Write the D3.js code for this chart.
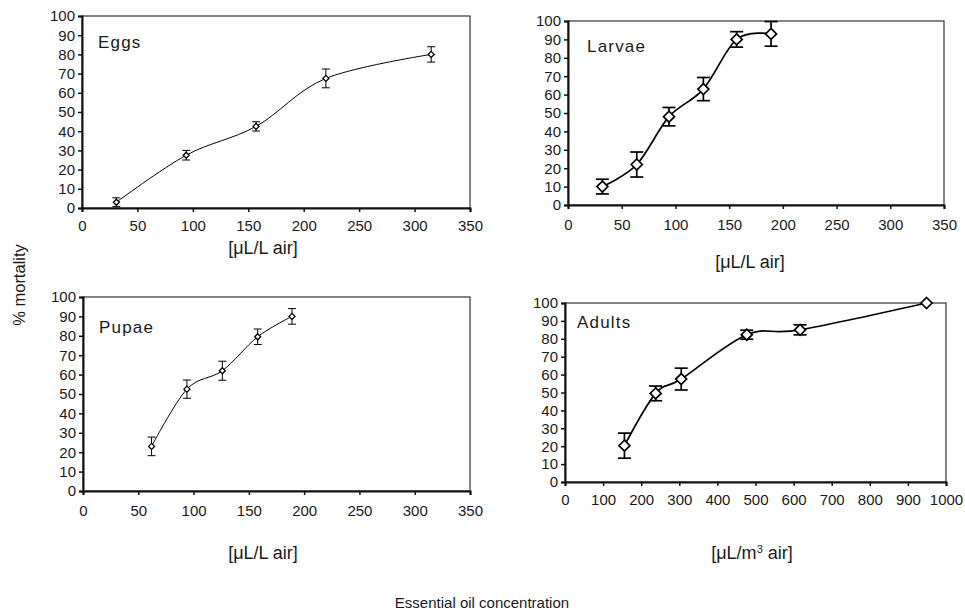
<!DOCTYPE html>
<html>
<head>
<meta charset="utf-8">
<script src="https://cdn.jsdelivr.net/npm/d3@7"></script>
<style>
  body { margin: 0; background: #fff; }
  svg { font-family: "Liberation Sans", Arial, sans-serif; }
</style>
</head>
<body>
<svg id="chart" width="965" height="613"></svg>
<script>
// data
var yTicks = [0, 10, 20, 30, 40, 50, 60, 70, 80, 90, 100];
var xTicksL = [0, 50, 100, 150, 200, 250, 300, 350];
var xTicksA = [0, 100, 200, 300, 400, 500, 600, 700, 800, 900, 1000];

var eggsX = [31, 94, 157, 220, 315];
var eggsY = [3, 27.5, 42.5, 67.5, 80];
var eggsErr = [2.3, 2.5, 2.4, 4.9, 4];

var larvaeX = [32, 64, 94, 126, 157, 189];
var larvaeY = [10, 22, 48, 63, 90, 93];
var larvaeErr = [4, 6.8, 5, 6.3, 4.2, 6.7];

var pupaeX = [62, 94, 126, 158, 189];
var pupaeY = [23, 52.5, 62, 79.5, 90];
var pupaeErr = [4.8, 4.7, 4.9, 4, 4];

var adultsX = [156, 238, 305, 477, 617, 949];
var adultsY = [20.3, 49.5, 57.5, 82.3, 85, 100];
var adultsErr = [7, 4.1, 6.1, 2.5, 2.8, 0];

var panels = [
  { name: 'Eggs', xs: eggsX, ys: eggsY, err: eggsErr, xTicks: xTicksL, xMax: 350,
    x0: 82, x1: 470, y0: 208, y1: 16, unit: '[μL/L air]', unitX: 263, unitY: 248,
    titleX: 98, titleY: 48, heavy: false, labOff: 12 },
  { name: 'Larvae', xs: larvaeX, ys: larvaeY, err: larvaeErr, xTicks: xTicksL, xMax: 350,
    x0: 568, x1: 944, y0: 205, y1: 21, unit: '[μL/L air]', unitX: 750, unitY: 262,
    titleX: 587, titleY: 52, heavy: true, labOff: 14 },
  { name: 'Pupae', xs: pupaeX, ys: pupaeY, err: pupaeErr, xTicks: xTicksL, xMax: 350,
    x0: 83, x1: 470, y0: 491, y1: 297, unit: '[μL/L air]', unitX: 263, unitY: 553,
    titleX: 99, titleY: 333, heavy: false, labOff: 14 },
  { name: 'Adults', xs: adultsX, ys: adultsY, err: adultsErr, xTicks: xTicksA, xMax: 1000,
    x0: 565, x1: 946, y0: 482, y1: 303, unit: 'm3', unitX: 752, unitY: 553,
    titleX: 577, titleY: 328, heavy: true, labOff: 12 }
];

var svg = d3.select('#chart');
var ink = '#1a1a1a';

function diamond(r) {
  return 'M0,' + (-r) + 'L' + r + ',0L0,' + r + 'L' + (-r) + ',0Z';
}

panels.forEach(function (p) {
  var lw = p.heavy ? 1.7 : 1;
  var r = p.heavy ? 5.5 : 3;
  var cap = p.heavy ? 6.5 : 4;

  var x = d3.scaleLinear().domain([0, p.xMax]).range([p.x0, p.x1]);
  var y = d3.scaleLinear().domain([0, 100]).range([p.y0, p.y1]);
  var g = svg.append('g');

  // plot frame (Excel style: gray top and right)
  g.append('rect')
    .attr('x', p.x0).attr('y', p.y1)
    .attr('width', p.x1 - p.x0).attr('height', p.y0 - p.y1)
    .attr('fill', 'none').attr('stroke', '#444').attr('stroke-width', 1.3);

  var yAxis = g.append('g')
    .attr('transform', 'translate(' + p.x0 + ',0)')
    .call(d3.axisLeft(y).tickValues(yTicks).tickSize(4).tickPadding(3).tickFormat(d3.format('d')));
  var xAxis = g.append('g')
    .attr('transform', 'translate(0,' + p.y0 + ')')
    .call(d3.axisBottom(x).tickValues(p.xTicks).tickSize(4).tickPadding(p.labOff - 4).tickFormat(d3.format('d')));

  [yAxis, xAxis].forEach(function (a) {
    a.select('.domain').attr('stroke', '#111').attr('stroke-width', 2);
    a.selectAll('.tick line').attr('stroke', '#111').attr('stroke-width', 1.5);
    a.selectAll('.tick text').attr('fill', ink)
      .style('font-size', '15px')
      .style('font-family', '"Liberation Sans", Arial, sans-serif');
  });

  var pts = p.xs.map(function (v, i) { return { x: v, y: p.ys[i], e: p.err[i] }; });

  // smoothed line
  var line = d3.line()
    .x(function (d) { return x(d.x); })
    .y(function (d) { return y(d.y); })
    .curve(d3.curveCardinal.tension(0));
  g.append('path').datum(pts)
    .attr('d', line)
    .attr('fill', 'none').attr('stroke', '#000').attr('stroke-width', lw);

  // error bars
  var eb = g.selectAll('.eb').data(pts.filter(function (d) { return d.e > 0; }))
    .enter().append('g').attr('stroke', '#000').attr('stroke-width', lw);
  eb.append('line')
    .attr('x1', function (d) { return x(d.x); }).attr('x2', function (d) { return x(d.x); })
    .attr('y1', function (d) { return y(d.y + d.e); }).attr('y2', function (d) { return y(d.y - d.e); });
  eb.append('line')
    .attr('x1', function (d) { return x(d.x) - cap; }).attr('x2', function (d) { return x(d.x) + cap; })
    .attr('y1', function (d) { return y(d.y + d.e); }).attr('y2', function (d) { return y(d.y + d.e); });
  eb.append('line')
    .attr('x1', function (d) { return x(d.x) - cap; }).attr('x2', function (d) { return x(d.x) + cap; })
    .attr('y1', function (d) { return y(d.y - d.e); }).attr('y2', function (d) { return y(d.y - d.e); });

  // markers
  g.selectAll('.mk').data(pts).enter().append('path')
    .attr('transform', function (d) { return 'translate(' + x(d.x) + ',' + y(d.y) + ')'; })
    .attr('d', diamond(r))
    .attr('fill', '#fff').attr('stroke', '#000').attr('stroke-width', p.heavy ? lw : 1.3);

  // panel title
  g.append('text')
    .attr('x', p.titleX).attr('y', p.titleY)
    .attr('fill', ink).style('font-size', '17px').style('letter-spacing', '1.2px')
    .text(p.name);

  // unit label
  var u = g.append('text')
    .attr('x', p.unitX).attr('y', p.unitY).attr('dy', '0.35em')
    .attr('text-anchor', 'middle').attr('fill', ink).style('font-size', '18px');
  if (p.unit === 'm3') {
    u.append('tspan').text('[μL/m');
    u.append('tspan').attr('dy', -6).style('font-size', '11px').text('3');
    u.append('tspan').attr('dy', 6).text(' air]');
  } else {
    u.text(p.unit);
  }
});

svg.append('text')
  .attr('transform', 'translate(19,285) rotate(-90)')
  .attr('text-anchor', 'middle').attr('dy', '0.35em')
  .attr('fill', ink).style('font-size', '16.5px')
  .text('% mortality');

svg.append('text')
  .attr('x', 482).attr('y', 603).attr('dy', '0.35em')
  .attr('text-anchor', 'middle').attr('fill', ink).style('font-size', '15px')
  .text('Essential oil concentration');
</script>
</body>
</html>
